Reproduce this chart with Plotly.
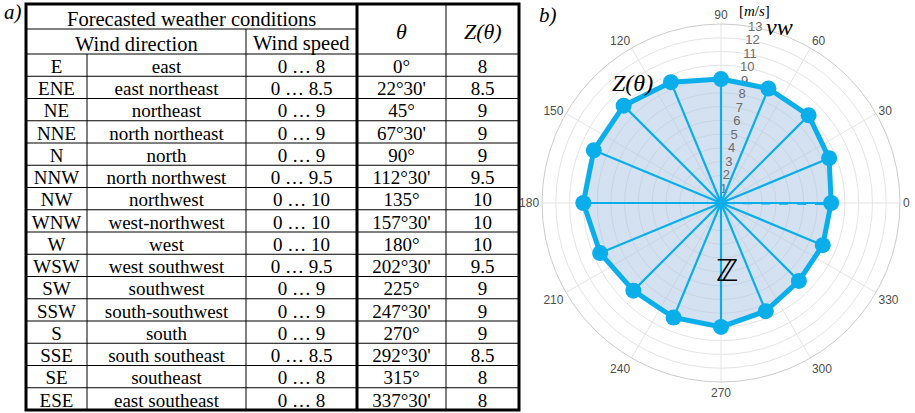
import plotly.graph_objects as go

# ---------------- data ----------------
codes = ["E", "ENE", "NE", "NNE", "N", "NNW", "NW", "WNW", "W", "WSW",
         "SW", "SSW", "S", "SSE", "SE", "ESE"]
names = ["east", "east northeast", "northeast", "north northeast", "north",
         "north northwest", "northwest", "west-northwest", "west",
         "west southwest", "southwest", "south-southwest", "south",
         "south southeast", "southeast", "east southeast"]
theta_deg = [0, 22.5, 45, 67.5, 90, 112.5, 135, 157.5, 180, 202.5,
             225, 247.5, 270, 292.5, 315, 337.5]
theta_labels = ["0°", "22°30'", "45°", "67°30'", "90°", "112°30'", "135°",
                "157°30'", "180°", "202°30'", "225°", "247°30'", "270°",
                "292°30'", "315°", "337°30'"]
z_vals = [8, 8.5, 9, 9, 9, 9.5, 10, 10, 10, 9.5, 9, 9, 9, 8.5, 8, 8]
angular_ticks = [0, 30, 60, 90, 120, 150, 180, 210, 240, 270, 300, 330]
radial_ticks = list(range(1, 14))

def fmt(v):
    return str(int(v)) if float(v).is_integer() else str(v)

speed_labels = ["0 … " + fmt(v) for v in z_vals]
z_labels = [fmt(v) for v in z_vals]

# ---------------- table layout (pixel space) ----------------
W, H = 915, 413
col_edges = [26, 87, 246, 357, 446, 519]
top = 4
hdr1, hdr2 = 29, 54
bottom = 410
n = len(codes)
row_h = (bottom - hdr2) / n
text_dy = 3
row_y = [hdr2 + row_h * (i + 0.5) + text_dy for i in range(n)]
col_c = [(col_edges[i] + col_edges[i + 1]) / 2 for i in range(5)]

SERIF = "Liberation Serif, Times New Roman, serif"
SANS = "Liberation Sans, Arial, sans-serif"
BLUE = "#0aaeea"

fig = go.Figure()

# table text columns
for ci, col in enumerate([codes, names, speed_labels, theta_labels, z_labels]):
    fig.add_trace(go.Scatter(
        x=[col_c[ci]] * n, y=row_y, text=col, mode="text",
        textfont=dict(family=SERIF, size=19, color="black"),
        textposition="middle center", hoverinfo="skip", showlegend=False,
        xaxis="x", yaxis="y"))

shapes = []
def line(x0, y0, x1, y1, w=1):
    shapes.append(dict(type="line", xref="x", yref="y", x0=x0, y0=y0,
                       x1=x1, y1=y1, line=dict(color="black", width=w),
                       layer="above"))

# horizontal lines
line(col_edges[0], hdr1, col_edges[3], hdr1)
line(col_edges[0], hdr2, col_edges[5], hdr2)
for i in range(1, n):
    line(col_edges[0], hdr2 + row_h * i, col_edges[5], hdr2 + row_h * i)
# vertical lines
line(col_edges[1], hdr2, col_edges[1], bottom)
line(col_edges[2], hdr1, col_edges[2], bottom)
line(col_edges[4], top, col_edges[4], bottom)
line(col_edges[3], top, col_edges[3], bottom, 3)
# outer border
shapes.append(dict(type="rect", xref="x", yref="y", x0=col_edges[0], y0=top,
                   x1=col_edges[5], y1=bottom,
                   line=dict(color="black", width=3), layer="above"))

annotations = []
def ann(x, y, text, size, family=SERIF, italic=False, color="black",
        xanchor="center"):
    annotations.append(dict(
        x=x, y=y, xref="x", yref="y", text=("<i>%s</i>" % text) if italic else text,
        showarrow=False, xanchor=xanchor, yanchor="middle",
        font=dict(family=family, size=size, color=color)))

ann((col_edges[0] + col_edges[3]) / 2, (top + hdr1) / 2 + 2,
    "Forecasted weather conditions", 20.5)
ann((col_edges[0] + col_edges[2]) / 2, (hdr1 + hdr2) / 2 + 2, "Wind direction", 20.5)
ann((col_edges[2] + col_edges[3]) / 2, (hdr1 + hdr2) / 2 + 2, "Wind speed", 20.5)
ann(col_c[3], (top + hdr2) / 2 + 2, "θ", 22, italic=True)
ann(col_c[4], (top + hdr2) / 2 + 2, "Z(θ)", 22, italic=True)
ann(13, 12, "a)", 21, italic=True)
ann(548, 15, "b)", 21, italic=True)
ann(737, 11, "[<i>m</i>/<i>s</i>]", 15, xanchor="left")
ann(764, 27, "vw", 24, italic=True, xanchor="left")
ann(632, 83, "Z(θ)", 24, italic=True)
ann(727, 270, "ℤ", 30, family="DejaVu Sans")

# ---------------- polar chart ----------------
r_closed = z_vals + [z_vals[0]]
t_closed = theta_deg + [theta_deg[0]]

# fill area
fig.add_trace(go.Scatterpolar(
    r=r_closed, theta=t_closed, mode="lines", fill="toself",
    fillcolor="rgba(170,195,225,0.5)", line=dict(width=0),
    hoverinfo="skip", showlegend=False))
# radial tick labels
fig.add_trace(go.Scatterpolar(
    r=radial_ticks, theta=[79] * len(radial_ticks),
    text=[str(v) for v in radial_ticks], mode="text",
    textposition="middle center",
    textfont=dict(family=SANS, size=13, color="#6b6b6b"),
    hoverinfo="skip", showlegend=False))
# outline
fig.add_trace(go.Scatterpolar(
    r=r_closed, theta=t_closed, mode="lines",
    line=dict(color=BLUE, width=5), hoverinfo="skip", showlegend=False))

spoke_r, spoke_t = [], []
for r, t in zip(z_vals[1:], theta_deg[1:]):
    spoke_r += [0, r, None]
    spoke_t += [t, t, None]
fig.add_trace(go.Scatterpolar(
    r=spoke_r, theta=spoke_t, mode="lines",
    line=dict(color=BLUE, width=2.2), hoverinfo="skip", showlegend=False))
fig.add_trace(go.Scatterpolar(
    r=[0, z_vals[0]], theta=[theta_deg[0], theta_deg[0]], mode="lines",
    line=dict(color=BLUE, width=2), hoverinfo="skip", showlegend=False))
fig.add_trace(go.Scatterpolar(
    r=[0.3, z_vals[0] - 0.3], theta=[theta_deg[0] - 1.2, theta_deg[0] - 0.6],
    mode="lines", line=dict(color=BLUE, width=2, dash="dash"),
    hoverinfo="skip", showlegend=False))
fig.add_trace(go.Scatterpolar(
    r=z_vals + [0], theta=theta_deg + [0], mode="markers",
    marker=dict(color=BLUE, size=[16] * n + [9], opacity=1,
                line=dict(width=0)),
    hoverinfo="skip", showlegend=False))

cx, cy, rad = 721, 203, 179
fig.update_layout(
    width=W, height=H, margin=dict(l=0, r=0, t=0, b=0),
    paper_bgcolor="white", plot_bgcolor="rgba(0,0,0,0)",
    xaxis=dict(domain=[0, 1], range=[0, W], visible=False, fixedrange=True),
    yaxis=dict(domain=[0, 1], range=[H, 0], visible=False, fixedrange=True),
    shapes=shapes, annotations=annotations,
    polar=dict(
        domain=dict(x=[(cx - rad) / W, (cx + rad) / W],
                    y=[(H - cy - rad) / H, (H - cy + rad) / H]),
        bgcolor="rgba(0,0,0,0)",
        angularaxis=dict(rotation=0, direction="counterclockwise",
                         tickmode="array", tickvals=angular_ticks,
                         ticktext=[str(a) for a in angular_ticks],
                         ticks="", showline=True, linecolor="#cccccc",
                         linewidth=1, gridcolor="#e4e4e4",
                         tickfont=dict(family=SANS, size=12, color="#4d4d4d")),
        radialaxis=dict(range=[0, 13], tickmode="array", tickvals=radial_ticks,
                        angle=80, showticklabels=False, showline=False,
                        ticks="", gridcolor="#e4e4e4"),
    ),
)

fig.write_html("out.html", config={"displayModeBar": False},
               post_script="document.body.style.margin='0px';")
